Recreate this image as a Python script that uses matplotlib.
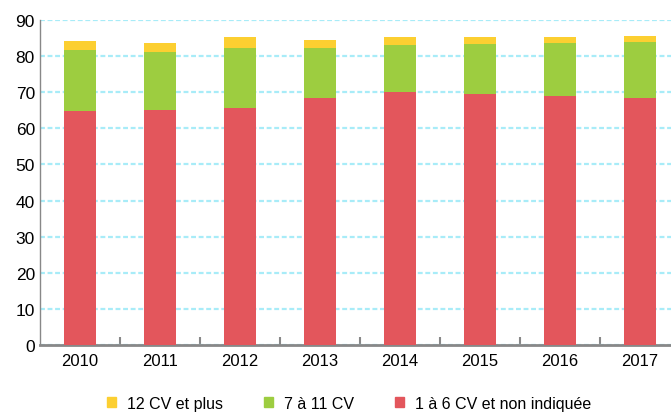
import matplotlib.pyplot as plt
from matplotlib.ticker import MultipleLocator, FixedLocator
from matplotlib.patches import Patch

plt.rcParams['font.family'] = ['Liberation Sans', 'DejaVu Sans']

years = ['2010', '2011', '2012', '2013', '2014', '2015', '2016', '2017']
cv_1_6 = [64.8, 65.1, 65.6, 68.4, 70.1, 69.5, 69.0, 68.4]
cv_7_11 = [16.9, 16.0, 16.6, 13.8, 13.0, 13.9, 14.6, 15.5]
cv_12 = [2.5, 2.5, 3.1, 2.3, 2.2, 1.9, 1.7, 1.7]

labels = ['12 CV et plus', '7 à 11 CV', '1 à 6 CV et non indiquée']
colors = ['#FCCF31', '#9DCD40', '#E3565C']

fig = plt.figure(figsize=(6.71, 4.14), dpi=100)
ax = fig.add_axes([40 / 671, 68 / 414, 640 / 671, 325 / 414])

x = list(range(len(years)))
w = 0.41
mid = [a + b for a, b in zip(cv_1_6, cv_7_11)]
ax.bar(x, cv_1_6, w, color=colors[2], zorder=3)
ax.bar(x, cv_7_11, w, bottom=cv_1_6, color=colors[1], zorder=3)
ax.bar(x, cv_12, w, bottom=mid, color=colors[0], zorder=3)

ax.set_xlim(-0.5, len(years) - 0.5)
ax.set_ylim(0, 90)
ax.yaxis.set_major_locator(MultipleLocator(10))
ax.grid(axis='y', color='#A8ECF8', linestyle=(0, (2.2, 1.2)), linewidth=1.6, zorder=0)

ax.set_xticks(x)
ax.set_xticklabels(years, fontsize=12)
ax.tick_params(axis='x', which='major', length=0, pad=6)
ax.xaxis.set_minor_locator(FixedLocator([i + 0.5 for i in range(len(years) - 1)]))
ax.tick_params(axis='x', which='minor', direction='in', length=6, color='#888888', width=1.5)
ax.tick_params(axis='y', length=0, labelsize=12.5, pad=3.6)

for s in ['top', 'right']:
    ax.spines[s].set_visible(False)
for s in ['left', 'bottom']:
    ax.spines[s].set_color('#888888')
ax.spines['left'].set_linewidth(1.0)
ax.spines['bottom'].set_linewidth(2.0)

handles = [Patch(color=c, label=l) for c, l in zip(colors, labels)]
fig.legend(handles=handles, loc='center', bbox_to_anchor=(0.52, 0.024), ncol=3,
           frameon=False, fontsize=11.5, handlelength=0.56, handleheight=0.56,
           columnspacing=2.57, handletextpad=0.69, borderpad=0)

fig.savefig('out.png', dpi=100)
